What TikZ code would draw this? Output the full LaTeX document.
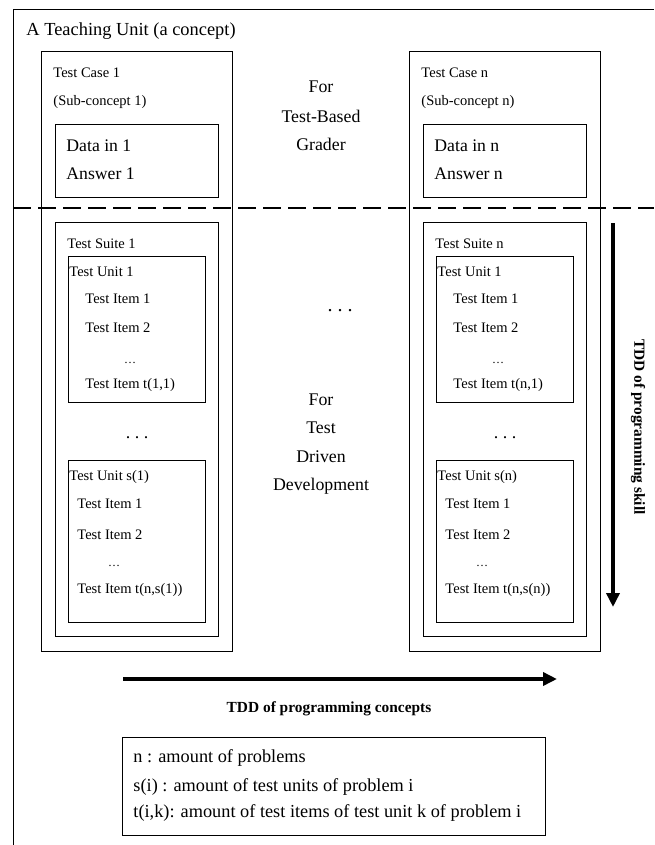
\documentclass[tikz,border=0pt]{standalone}
\usepackage{fontspec}
\setmainfont{Liberation Serif}
\usetikzlibrary{arrows.meta}

\begin{document}
\begin{tikzpicture}[x=1pt,y=-1pt,line width=0.9pt,
  txt/.style={anchor=west,inner sep=0pt,font=\fontsize{14.5}{16}\selectfont},
  bigtxt/.style={anchor=west,inner sep=0pt,font=\fontsize{17.7}{20}\selectfont},
  midtxt/.style={inner sep=0pt,font=\fontsize{17.8}{20}\selectfont},
  legtxt/.style={anchor=west,inner sep=0pt,font=\fontsize{18.3}{20}\selectfont},
  lbl/.style={inner sep=0pt,font=\fontsize{15.4}{17}\selectfont\bfseries},
  tinydots/.style={anchor=base,inner sep=0pt,font=\fontsize{12}{14}\selectfont},
  dotrow/.style={anchor=base,inner sep=0pt,font=\fontsize{18}{20}\selectfont},
  bigarrow/.style={line width=3.5pt,-{Triangle[length=14pt,width=13pt]}}]

\useasboundingbox (0,0) rectangle (654,845);
\draw (654,9) -- (13,9) -- (13,845);
\node[anchor=west,inner sep=0pt,font=\fontsize{18.4}{22}\selectfont] (title) at (26,31) {A Teaching Unit (a concept)};

\foreach \dx/\k in {0/1,368/n}{
  \draw (41+\dx,51) rectangle (232+\dx,651);
  \node[txt] (case\k) at (53+\dx,73) {Test Case \k};
  \node[txt] (sub\k) at (53+\dx,102) {(Sub-concept \k)};
  \draw (55+\dx,124) rectangle (218+\dx,197);
  \node[bigtxt] (data\k) at (66+\dx,146) {Data in \k};
  \node[bigtxt] (ans\k) at (66+\dx,174) {Answer \k};
  \draw (55+\dx,222) rectangle (218+\dx,636);
  \node[txt] (suite\k) at (67+\dx,244) {Test Suite \k};
  \draw (68+\dx,256) rectangle (205+\dx,402);
  \node[txt] (unitA\k) at (69+\dx,272) {Test Unit 1};
  \node[txt] (itemAa\k) at (85+\dx,299) {Test Item 1};
  \node[txt] (itemAb\k) at (85+\dx,328) {Test Item 2};
  \node[tinydots] (dotsA\k) at (130+\dx,363) {\dots};
  \node[txt] (itemAt\k) at (85+\dx,385) {Test Item t(\k,1)};
  \node[dotrow] (dotsU\k) at (137+\dx,438) {.\ .\ .};
  \draw (68+\dx,460) rectangle (205+\dx,622);
  \node[txt] (unitS\k) at (69+\dx,477) {Test Unit s(\k)};
  \node[txt] (itemSa\k) at (77+\dx,504) {Test Item 1};
  \node[txt] (itemSb\k) at (77+\dx,535) {Test Item 2};
  \node[tinydots] (dotsS\k) at (114+\dx,566) {\dots};
  \node[txt] (itemSt\k) at (77+\dx,590) {Test Item t(n,s(\k))};
}

\draw[line width=1.2pt,dash pattern=on 18pt off 7pt] (13,208) -- (654,208);

\node[midtxt] (for1) at (321,87) {For};
\node[midtxt] (tbg1) at (321,116) {Test-Based};
\node[midtxt] (tbg2) at (321,144) {Grader};
\node[dotrow,font=\fontsize{20}{22}\selectfont] (middots) at (340,311) {.\ .\ .};
\node[midtxt] (for2) at (321,400) {For};
\node[midtxt] (tdd1) at (321,428) {Test};
\node[midtxt] (tdd2) at (321,457) {Driven};
\node[midtxt] (tdd3) at (321,486) {Development};

\coordinate (skilltop) at (613,223);
\coordinate (skillend) at (613,607);
\draw[bigarrow] (skilltop) -- (skillend);
\node[lbl,rotate=-90] (skill) at (638,427) {TDD of programming skill};

\coordinate (conceptleft) at (123,679);
\coordinate (conceptend) at (557,679);
\draw[bigarrow] (conceptleft) -- (conceptend);
\node[lbl] (concept) at (329,709) {TDD of programming concepts};

\draw (122,737) rectangle (545,835);
\node[legtxt] (leg1) at (133,758) {n : amount of problems};
\node[legtxt] (leg2) at (133,787) {s(i) : amount of test units of problem i};
\node[legtxt] (leg3) at (133,813) {t(i,k): amount of test items of test unit k of problem i};
\end{tikzpicture}
\end{document}
